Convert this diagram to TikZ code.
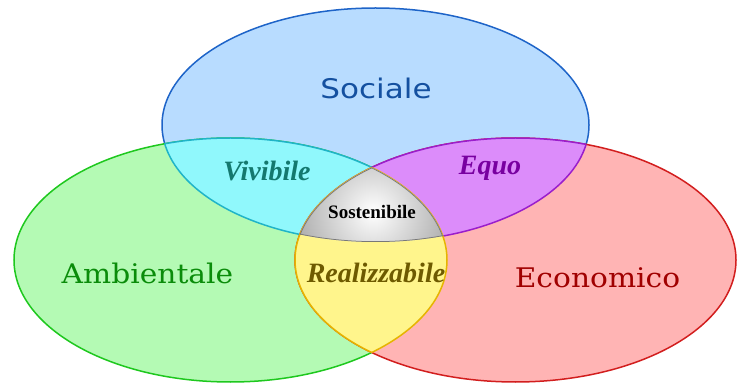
\documentclass[tikz,border=0pt]{standalone}
\usepackage{fontspec}
\setmainfont{DejaVu Serif}
\newfontfamily\sansf{DejaVu Sans}
\newfontfamily\serifbi{Liberation Serif}
\definecolor{blueF}{HTML}{B8DCFF}
\definecolor{blueD}{HTML}{1E64C8}
\definecolor{greenF}{HTML}{B4FAB4}
\definecolor{greenD}{HTML}{1EC81E}
\definecolor{redF}{HTML}{FFB4B4}
\definecolor{redD}{HTML}{D21E1E}
\definecolor{cyanF}{HTML}{90F8FC}
\definecolor{cyanD}{HTML}{20B4C8}
\definecolor{purpF}{HTML}{DC8CFA}
\definecolor{purpD}{HTML}{9A1ECC}
\definecolor{yelF}{HTML}{FFF58C}
\definecolor{yelD}{HTML}{E6B400}
\definecolor{grayD}{HTML}{787878}
\definecolor{grayF}{HTML}{B0B0B0}
\definecolor{tSoc}{HTML}{1450A0}
\definecolor{tAmb}{HTML}{0A8C0A}
\definecolor{tEco}{HTML}{A00000}
\definecolor{tViv}{HTML}{14786E}
\definecolor{tEqu}{HTML}{7800A0}
\definecolor{tRea}{HTML}{6E5A00}
\tikzset{
  edge/.style={line width=1.5pt},
  bigsans/.style={font=\sansf\fontsize{27}{30}\selectfont},
  bigserif/.style={font=\fontsize{27}{30}\selectfont},
  smallbi/.style={font=\serifbi\bfseries\itshape\fontsize{28}{30}\selectfont},
}
\def\Soc{(375.5,125) ellipse [x radius=213.5pt, y radius=117pt]}
\def\Amb{(230.5,260) ellipse [x radius=216.5pt, y radius=122pt]}
\def\Eco{(515.5,260) ellipse [x radius=220.5pt, y radius=122pt]}
\begin{document}
\begin{tikzpicture}[x=1pt,y=-1pt]
\useasboundingbox (0,0) rectangle (739,387);
% main sets
\fill[blueF] \Soc;
\draw[edge,blueD] \Soc;
\fill[greenF] \Amb;
\draw[edge,greenD] \Amb;
\fill[redF] \Eco;
\draw[edge,redD] \Eco;
% Vivibile: Soc and Amb
\begin{scope}\clip \Soc; \fill[cyanF] \Amb; \draw[edge,cyanD] \Amb; \end{scope}
\begin{scope}\clip \Amb; \draw[edge,cyanD] \Soc; \end{scope}
% Equo: Soc and Eco
\begin{scope}\clip \Soc; \fill[purpF] \Eco; \draw[edge,purpD] \Eco; \end{scope}
\begin{scope}\clip \Eco; \draw[edge,purpD] \Soc; \end{scope}
% Realizzabile: Amb and Eco
\begin{scope}\clip \Amb; \fill[yelF] \Eco; \draw[edge,yelD] \Eco; \end{scope}
\begin{scope}\clip \Eco; \draw[edge,yelD] \Amb; \end{scope}
% Sostenibile: all three
\begin{scope}
  \clip \Soc; \clip \Amb; \clip \Eco;
  \shade[inner color=white, outer color=grayF] (373,212) circle [radius=75pt];
  \draw[edge,grayD] \Soc; \draw[edge,grayD] \Amb; \draw[edge,grayD] \Eco;
\end{scope}
% labels
\node[bigsans,text=tSoc] (soc) at (376,88) {\scalebox{1.15}[1]{Sociale}};
\node[bigserif,text=tAmb] (amb) at (147.5,273) {\scalebox{1.1}[1]{Ambientale}};
\node[bigserif,text=tEco] (eco) at (597.5,278) {\scalebox{1.1}[1]{Economico}};
\node[smallbi,text=tViv] (viv) at (267,171) {Vivibile};
\node[smallbi,text=tEqu] (equ) at (490,168) {Equo};
\node[smallbi,text=tRea] (rea) at (376,273) {Realizzabile};
\node[font=\serifbi\bfseries\fontsize{19}{21}\selectfont,text=black] (sos) at (372,212) {Sostenibile};
\end{tikzpicture}
\end{document}
